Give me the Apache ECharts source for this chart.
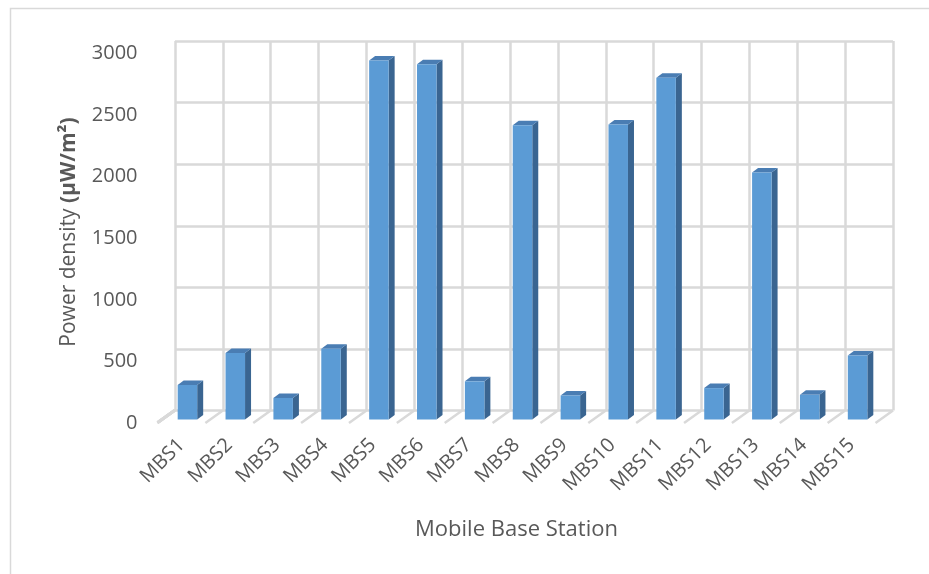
<!DOCTYPE html>
<html>
<head>
<meta charset="utf-8">
<script src="https://cdn.jsdelivr.net/npm/echarts@6/dist/echarts.min.js"></script>
<style>html,body{margin:0;padding:0;background:#fff}#c{width:929px;height:574px}</style>
</head>
<body>
<div id="c"></div>
<script>
const categories = ['MBS1','MBS2','MBS3','MBS4','MBS5','MBS6','MBS7','MBS8','MBS9','MBS10','MBS11','MBS12','MBS13','MBS14','MBS15'];
const powerDensity = [280, 540, 175, 575, 2915, 2885, 310, 2390, 195, 2395, 2775, 255, 2005, 200, 520];
const yTicks = [0, 500, 1000, 1500, 2000, 2500, 3000];
const yTitle = 'Power density {b|(µW/m²)}';
const xTitle = 'Mobile Base Station';

const FONT = 'Open Sans';
const TXT = '#595959';
const GRID = '#D9D9D9';
const DX = -17.5, DY = 12.5; // wall-to-front depth offset

const chart = echarts.init(document.getElementById('c'), null, {renderer: 'canvas'});

const boundaries = categories.map((c, i) => i).concat([categories.length]);

chart.setOption({
  animation: false,
  backgroundColor: '#fff',
  graphic: [{
    type: 'rect', left: 8, top: 6, shape: {width: 960, height: 620},
    style: {fill: 'none', stroke: GRID, lineWidth: 1.5}, silent: true, z: -10
  }, {
    type: 'text', x: 69, y: 232, rotation: Math.PI / 2, silent: true,
    style: {text: yTitle, fill: TXT, font: '21px "Open Sans"', align: 'center', verticalAlign: 'middle',
            rich: {b: {fontWeight: 'bold', fill: TXT, fontFamily: FONT, fontSize: 21}}}
  }],
  grid: [
    {left: 175, top: 41, width: 718, height: 369.5},
    {left: 157.5, top: 53.5, width: 718, height: 369.5}
  ],
  xAxis: [
    {gridIndex: 0, type: 'category', data: categories, boundaryGap: true,
     axisLine: {show: false}, axisTick: {show: false}, axisLabel: {show: false},
     splitLine: {show: true, interval: 0, lineStyle: {color: GRID, width: 2.5}}},
    {gridIndex: 1, type: 'category', data: categories, boundaryGap: true,
     axisLine: {show: false}, axisTick: {show: false},
     axisLabel: {show: true, interval: 0, rotate: 45, margin: 19, color: TXT, fontFamily: FONT, fontSize: 20},
     splitLine: {show: false},
     name: xTitle, nameLocation: 'middle', nameGap: 96,
     nameTextStyle: {color: TXT, fontFamily: FONT, fontSize: 22}}
  ],
  yAxis: [
    {gridIndex: 0, type: 'value', min: 0, max: 3000, interval: 500,
     axisLine: {show: false}, axisTick: {show: false}, axisLabel: {show: false},
     splitLine: {show: true, lineStyle: {color: GRID, width: 2.5}}},
    {gridIndex: 1, type: 'value', min: 0, max: 3000, interval: 500,
     axisLine: {show: false}, axisTick: {show: false},
     axisLabel: {show: true, margin: 20, color: TXT, fontFamily: FONT, fontSize: 20,
                 formatter: v => String(v)},
     splitLine: {show: false}}
  ],
  series: [
    {
      type: 'custom', xAxisIndex: 0, yAxisIndex: 0, silent: true, z: 1,
      data: boundaries,
      renderItem: function (params, api) {
        const i = api.value(0);
        const w = api.size([1, 0])[0];
        const p = api.coord([Math.min(i, categories.length - 1), 0]);
        const x = i < categories.length ? p[0] - w / 2 : p[0] + w / 2;
        return {type: 'line', shape: {x1: x, y1: p[1], x2: x + DX, y2: p[1] + DY},
                style: {stroke: GRID, lineWidth: 2.5}};
      }
    },
    {
      type: 'custom', xAxisIndex: 0, yAxisIndex: 0, silent: true, z: 1,
      data: yTicks,
      renderItem: function (params, api) {
        const v = api.value(0);
        const p0 = api.coord([0, v]);
        const w = api.size([1, 0])[0];
        const x = p0[0] - w / 2;
        return {type: 'line', shape: {x1: x, y1: p0[1], x2: x + DX, y2: p0[1] + DY},
                style: {stroke: GRID, lineWidth: 2.5}};
      }
    },
    {
      type: 'custom', xAxisIndex: 0, yAxisIndex: 0, z: 5,
      data: powerDensity.map((v, i) => [i, v]),
      renderItem: function (params, api) {
        const top = api.coord([api.value(0), api.value(1)]);
        const base = api.coord([api.value(0), 0]);
        const bw = 19.5, sx = 6, sy = 4.5;
        const x = top[0] - 11.5 - bw / 2;
        const y1 = top[1] + 9, y2 = base[1] + 9;
        return {type: 'group', children: [
          {type: 'polygon', shape: {points: [[x + bw, y1], [x + bw + sx, y1 - sy], [x + bw + sx, y2 - sy], [x + bw, y2]]},
           style: {fill: '#3A6591'}},
          {type: 'polygon', shape: {points: [[x, y1], [x + sx, y1 - sy], [x + bw + sx, y1 - sy], [x + bw, y1]]},
           style: {fill: '#4A7DB3'}},
          {type: 'rect', shape: {x: x, y: y1, width: bw, height: y2 - y1},
           style: {fill: '#5B9BD5'}}
        ]};
      }
    }
  ]
});
</script>
</body>
</html>
